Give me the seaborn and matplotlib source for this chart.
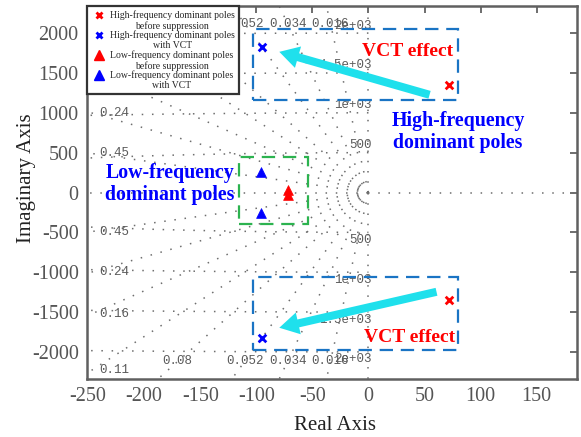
import numpy as np
import matplotlib
matplotlib.use("Agg")
import matplotlib.pyplot as plt
import seaborn as sns
from matplotlib.lines import Line2D
from matplotlib.patches import Rectangle, FancyArrowPatch
from matplotlib.legend_handler import HandlerLine2D

# Pole locations (real part, imaginary part)
hf_before_re = [72, 72]
hf_before_im = [1350, -1350]
hf_vct_re = [-95, -95]
hf_vct_im = [1825, -1825]
lf_before_re = [-72, -72]
lf_before_im = [30, -30]
lf_vct_re = [-96, -96]
lf_vct_im = [260, -260]

legend_labels = [
    "High-frequency dominant poles\nbefore suppression",
    "High-frequency dominant poles\nwith VCT",
    "Low-frequency dominant poles\nbefore suppression",
    "Low-frequency dominant poles\nwith VCT",
]

# s-plane grid: constant damping rays and constant natural-frequency arcs
damping = [0.016, 0.034, 0.052, 0.08, 0.11, 0.16, 0.24, 0.45]
damping_labels = ["0.016", "0.034", "0.052", "0.08", "0.11", "0.16", "0.24", "0.45"]
wn = [500, 1000, 1500, 2000]
wn_labels = ["500", "1e+03", "1.5e+03", "2e+03"]

xticks = [-250, -200, -150, -100, -50, 0, 50, 100, 150]
yticks = [-2000, -1500, -1000, -500, 0, 500, 1000, 1500, 2000]

sns.set_theme(style="white")
plt.rcParams["font.family"] = ["Liberation Serif", "DejaVu Serif"]
plt.rcParams["axes.unicode_minus"] = False

fig = plt.figure(figsize=(5.81, 4.37), dpi=100)
ax = fig.add_axes([87 / 581, 1 - 379 / 437, 490 / 581, 373 / 437])
ax.set_xlim(-251, 186)
ax.set_ylim(-2340, 2340)

grey_dot = dict(color="#6e6e6e", lw=1.1, dashes=(1, 5.7), zorder=1)

# damping rays start at the origin
for z in damping:
    slope = np.sqrt(1 - z ** 2) / z
    for sgn in (1, -1):
        ax.plot([0, -300], [0, sgn * 300 * slope], **grey_dot)
ax.plot([0, 0], [0, 3000], **grey_dot)
ax.plot([0, 0], [0, -3000], **grey_dot)
ax.plot([0, -300], [0, 0], **grey_dot)
ax.plot([0, 300], [0, 0], **grey_dot)

# natural frequency arcs in the left half plane
theta = np.linspace(np.pi / 2, 3 * np.pi / 2, 400)
for w in wn:
    ax.plot(w * np.cos(theta), w * np.sin(theta), **grey_dot)

# grid labels
lab_kw = dict(family="Liberation Mono", fontsize=9, color="#5a5a5a", zorder=2)
for z, lab in zip(damping, damping_labels):
    slope = np.sqrt(1 - z ** 2) / z
    y_left = 247 * slope
    for sgn in (1, -1):
        if y_left < 2260:
            ax.text(-240, sgn * y_left, lab, ha="left", va="center", **lab_kw)
        else:
            ax.text(-2120 / slope, sgn * 2120, lab, ha="center", va="center", **lab_kw)
for w, lab in zip(wn, wn_labels):
    ax.text(3, w + 20, lab, ha="right", va="bottom", **lab_kw)
    ax.text(3, -w - 20, lab, ha="right", va="top", **lab_kw)

# poles
sns.scatterplot(x=hf_before_re, y=hf_before_im, marker="x", color="#ff0000",
                s=30, linewidth=2, ax=ax, legend=False, zorder=5)
sns.scatterplot(x=hf_vct_re, y=hf_vct_im, marker="x", color="#0000ff",
                s=30, linewidth=2, ax=ax, legend=False, zorder=5)
sns.scatterplot(x=lf_before_re, y=lf_before_im, marker="^", color="#ff0000",
                edgecolor="#ff0000", s=50, linewidth=0.5, ax=ax, legend=False, zorder=5)
sns.scatterplot(x=lf_vct_re, y=lf_vct_im, marker="^", color="#0000ff",
                edgecolor="#0000ff", s=50, linewidth=0.5, ax=ax, legend=False, zorder=5)

# highlight boxes
box_blue = "#1a74c4"
ax.add_patch(Rectangle((-103, 1163), 183, 2054 - 1163, fill=False, ec=box_blue,
                       lw=1.6, ls=(0, (6, 3.5)), zorder=4))
ax.add_patch(Rectangle((-103, -1974), 183, 1974 - 1058, fill=False, ec=box_blue,
                       lw=1.6, ls=(0, (6, 3.5)), zorder=4))
ax.add_patch(Rectangle((-115, -393), 61, 448 + 393, fill=False, ec="#2cb34f",
                       lw=1.6, ls=(0, (6, 3.5)), zorder=4))

# arrows
arrow_style = "simple,head_width=16,head_length=14,tail_width=5.8"
for tail, tip in [((54.5, 1226), (-79.5, 1765)), ((60.7, -1246), (-79.5, -1697))]:
    ax.add_patch(FancyArrowPatch(tail, tip, arrowstyle=arrow_style, mutation_scale=1,
                                 color="#1fe0ec", lw=0, shrinkA=0, shrinkB=0, zorder=6))

# annotations
ax.text(35, 1765, "VCT effect", color="#ff0000", fontsize=14, fontweight="bold",
        ha="center", va="center", zorder=7)
ax.text(37, -1822, "VCT effect", color="#ff0000", fontsize=14, fontweight="bold",
        ha="center", va="center", zorder=7)
ax.text(80, 755, "High-frequency\ndominant poles", color="#0000ff", fontsize=14.3,
        fontweight="bold", ha="center", va="center", linespacing=1.15, zorder=7)
ax.text(-177, 103, "Low-frequency\ndominant poles", color="#0000ff", fontsize=14.3,
        fontweight="bold", ha="center", va="center", linespacing=1.15, zorder=7)

# axes styling
ax.set_xticks(xticks)
ax.set_yticks(yticks)
ax.tick_params(direction="in", top=True, right=True, length=5, width=1.2,
               color="#555555", labelsize=14.5, labelcolor="#555555", pad=6)
for sp in ax.spines.values():
    sp.set_color("#606060")
    sp.set_linewidth(1.8)
ax.set_xlabel("Real Axis", fontsize=15, color="#222222")
ax.set_ylabel("Imaginary Axis", fontsize=15, color="#222222")
ax.xaxis.set_label_coords(0.506, -0.1)
ax.yaxis.set_label_coords(-0.105, 0.539)


class RaisedMarker(HandlerLine2D):
    """Puts the legend marker on the first line of a two-line label."""

    def __init__(self, lift, **kw):
        super().__init__(**kw)
        self.lift = lift

    def create_artists(self, legend, orig_handle, xdescent, ydescent, width,
                       height, fontsize, trans):
        return super().create_artists(legend, orig_handle, xdescent,
                                      ydescent - 2 * self.lift, width, height,
                                      fontsize, trans)


handles = [
    Line2D([], [], ls="none", marker="x", color="#ff0000", markersize=5, mew=2),
    Line2D([], [], ls="none", marker="x", color="#0000ff", markersize=5, mew=2),
    Line2D([], [], ls="none", marker="^", color="#ff0000", markersize=7),
    Line2D([], [], ls="none", marker="^", color="#0000ff", markersize=7),
]
leg = ax.legend(handles, legend_labels, loc="upper left", bbox_to_anchor=(0, 1),
                borderaxespad=0, fontsize=7, handlelength=1.5, handletextpad=0.4,
                borderpad=0.45, labelspacing=0.0, fancybox=False, framealpha=1,
                edgecolor="#333333",
                handler_map={h: RaisedMarker(3.9) for h in handles})
leg.get_frame().set_linewidth(1.6)
leg.set_zorder(10)
for t in leg.get_texts():
    t.set_multialignment("center")
    t.set_linespacing(1.12)

fig.savefig("out.png", dpi=100)
